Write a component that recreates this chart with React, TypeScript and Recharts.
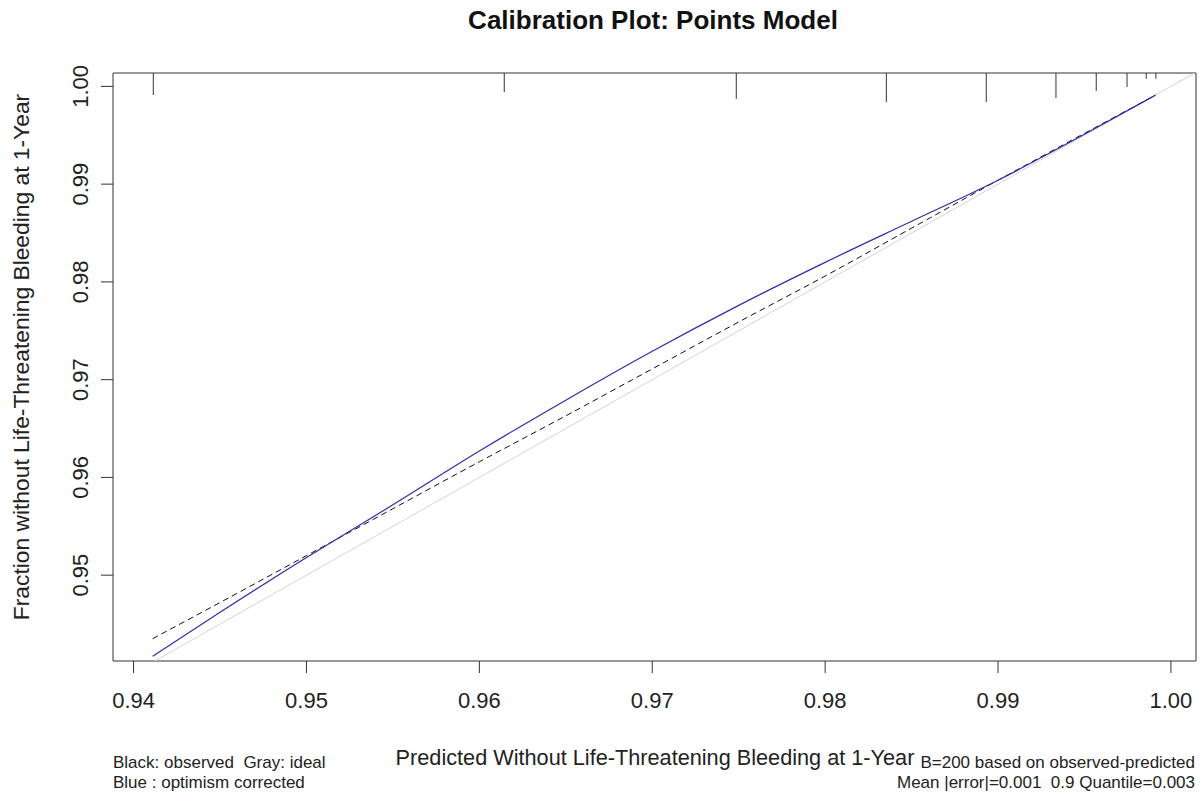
import { ComposedChart, Line, XAxis, YAxis, ReferenceLine, ReferenceArea } from 'recharts';

// predicted probability grid (x) and the two calibration curves
const predicted = [0.9411, 0.945, 0.95, 0.955, 0.96, 0.965, 0.97, 0.975, 0.98, 0.985, 0.99, 0.995, 0.9991];
const observed = [0.9435, 0.9472, 0.952, 0.9568, 0.9616, 0.9663, 0.9711, 0.9759, 0.9806, 0.9855, 0.9904, 0.9952, 0.9991];
const corrected = [0.9417, 0.9462, 0.9518, 0.9572, 0.9627, 0.9679, 0.9729, 0.9776, 0.982, 0.9862, 0.9904, 0.9951, 0.9991];
const ideal = [0.94122, 1.00137];

// rug of predicted values along the top (height = relative frequency, in y units)
const rugX = [0.94114, 0.96144, 0.97486, 0.98354, 0.98932, 0.99335, 0.99568, 0.99746, 0.99857, 0.99913];
const rugHeights = [0.00225, 0.00195, 0.00266, 0.00297, 0.00297, 0.00256, 0.00184, 0.00143, 0.0006, 0.0006];

const xTicks = [0.94, 0.95, 0.96, 0.97, 0.98, 0.99, 1.0];
const yTicks = [0.95, 0.96, 0.97, 0.98, 0.99, 1.0];

const X_DOMAIN: [number, number] = [0.93881, 1.00145];
const Y_DOMAIN: [number, number] = [0.94122, 1.00137];

const FONT = '"Liberation Sans", Arial, sans-serif';
const INK = '#333';

const observedData = predicted.map((x, i) => ({ x, y: observed[i] }));
const correctedData = predicted.map((x, i) => ({ x, y: corrected[i] }));
const idealData = ideal.map(v => ({ x: v, y: v }));

function YTick({ x, y, payload }: any) {
  return (
    <text
      transform={`translate(${x - 13},${y}) rotate(-90)`}
      textAnchor="middle"
      fontSize={22}
      fontFamily={FONT}
      fill="#222"
    >
      {payload.value.toFixed(2)}
    </text>
  );
}

export default function App() {
  return (
    <div style={{ position: 'absolute', left: 0, top: 0, width: 1204, height: 795, background: '#fff' }}>
      <ComposedChart width={1204} height={795} margin={{ top: 73, right: 8, bottom: 0, left: 0 }}>
        <XAxis
          dataKey="x"
          type="number"
          domain={X_DOMAIN}
          allowDataOverflow
          ticks={xTicks}
          tickFormatter={v => v.toFixed(2)}
          height={134}
          tickSize={12}
          tickMargin={19}
          axisLine={false}
          tickLine={{ stroke: INK }}
          tick={{ fontSize: 22, fontFamily: FONT, fill: '#222' }}
        />
        <YAxis
          dataKey="y"
          type="number"
          domain={Y_DOMAIN}
          allowDataOverflow
          ticks={yTicks}
          width={113}
          tickSize={12}
          tickMargin={0}
          axisLine={false}
          tickLine={{ stroke: INK }}
          tick={<YTick />}
        />
        <ReferenceArea
          x1={X_DOMAIN[0]}
          x2={X_DOMAIN[1]}
          y1={Y_DOMAIN[0]}
          y2={Y_DOMAIN[1]}
          fill="none"
          stroke={INK}
          strokeWidth={1}
          ifOverflow="visible"
        />
        <Line data={idealData} dataKey="y" stroke="#d4d4d4" strokeWidth={1} dot={false} isAnimationActive={false} />
        <Line
          data={observedData}
          dataKey="y"
          type="monotone"
          stroke="#111"
          strokeWidth={1}
          strokeDasharray="6 4"
          dot={false}
          isAnimationActive={false}
        />
        <Line
          data={correctedData}
          dataKey="y"
          type="monotone"
          stroke="#2e2eae"
          strokeWidth={1.2}
          dot={false}
          isAnimationActive={false}
        />
        {rugX.map((x, i) => (
          <ReferenceLine
            key={x}
            segment={[{ x, y: Y_DOMAIN[1] }, { x, y: Y_DOMAIN[1] - rugHeights[i] }]}
            stroke={INK}
            strokeWidth={1}
            ifOverflow="visible"
          />
        ))}
      </ComposedChart>

      <svg width={1204} height={795} style={{ position: 'absolute', left: 0, top: 0, pointerEvents: 'none' }}>
        <text x={653} y={29} textAnchor="middle" fontSize={26} fontWeight="bold" fontFamily={FONT} fill="#111">
          Calibration Plot: Points Model
        </text>
        <text x={655} y={765} textAnchor="middle" fontSize={21.7} fontFamily={FONT} fill="#222">
          Predicted Without Life-Threatening Bleeding at 1-Year
        </text>
        <text transform="translate(29,357) rotate(-90)" textAnchor="middle" fontSize={22.8} fontFamily={FONT} fill="#222">
          Fraction without Life-Threatening Bleeding at 1-Year
        </text>
        <text x={113} y={768} fontSize={17} fontFamily={FONT} fill="#222" style={{ whiteSpace: 'pre' }}>
          {'Black: observed  Gray: ideal'}
        </text>
        <text x={113} y={788} fontSize={17} fontFamily={FONT} fill="#222">
          Blue : optimism corrected
        </text>
        <text x={1195} y={768} textAnchor="end" fontSize={17} fontFamily={FONT} fill="#222">
          B=200 based on observed-predicted
        </text>
        <text x={1195} y={788} textAnchor="end" fontSize={17} fontFamily={FONT} fill="#222" style={{ whiteSpace: 'pre' }}>
          {'Mean |error|=0.001  0.9 Quantile=0.003'}
        </text>
      </svg>
    </div>
  );
}
